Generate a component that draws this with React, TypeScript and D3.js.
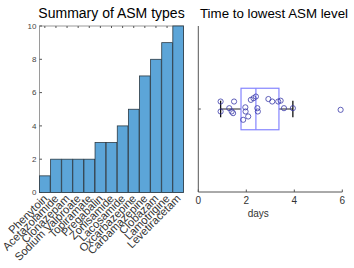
import React, { useEffect, useRef } from "react";
import * as d3 from "d3";

// bar chart data (counts per drug)
const drugs = [
  "Phenytoin", "Acetazolamide", "Clonazepam", "Sodium Valproate", "Topiramate",
  "Pregabalin", "Zonisamide", "Lacosamide", "Oxcarbazepine", "Carbamazepine",
  "Clobazam", "Lamotrigine", "Levetiracetam",
];
const counts = [1, 2, 2, 2, 2, 3, 3, 4, 5, 7, 8, 9, 10];
const countTicks = [0, 2, 4, 6, 8, 10];

// box plot data (days) + the jitter used for the scatter
const days = [
  0.93, 0.93, 1.29, 1.49, 1.39, 1.45, 1.96, 1.97, 2.08, 1.87, 2.19,
  2.3, 2.4, 2.46, 2.48, 2.92, 3.08, 3.33, 3.43, 3.57, 3.94, 5.93,
];
const jitter = [
  1.09, 0.97, 1.01, 1.09, 0.97, 0.95, 1.02, 0.97, 0.91, 0.87, 1.11,
  1.13, 1.15, 1.01, 0.97, 1.12, 1.09, 1.09, 1.1, 1.01, 1.01, 0.99,
];
const boxStats = [0.93, 1.78, 2.4, 3.36, 3.94]; // whisker lo, q1, median, q3, whisker hi
const dayTicks = [0, 2, 4, 6];

const FONT = "'Liberation Sans', Arial, sans-serif";

export default function App() {
  const ref = useRef<SVGSVGElement>(null);

  useEffect(() => {
    const svg = d3.select(ref.current);
    svg.selectAll("*").remove();
    svg.attr("font-family", FONT);

    // ---------- left: bar chart ----------
    const L = { left: 39.5, right: 183.5, top: 26, bottom: 192.5 };
    const x = d3.scaleBand().domain(drugs).range([L.left, L.right]).paddingInner(0.04);
    const y = d3.scaleLinear().domain([0, 10]).range([L.bottom, L.top]);
    const g1 = svg.append("g");

    g1.append("text")
      .attr("x", (L.left + L.right) / 2).attr("y", 18)
      .attr("text-anchor", "middle").attr("font-size", 14).attr("fill", "#000")
      .text("Summary of ASM types");

    // frame
    g1.append("rect")
      .attr("x", L.left).attr("y", L.top)
      .attr("width", L.right - L.left).attr("height", L.bottom - L.top)
      .attr("fill", "none").attr("stroke", "#9a9a9a").attr("stroke-width", 1);

    // y ticks
    countTicks.forEach((t) => {
      g1.append("line")
        .attr("x1", L.left).attr("x2", L.left + 2.5)
        .attr("y1", y(t)).attr("y2", y(t)).attr("stroke", "#555");
      g1.append("text")
        .attr("x", L.left - 3).attr("y", y(t)).attr("dy", "0.35em")
        .attr("text-anchor", "end").attr("font-size", 8).attr("fill", "#444")
        .text(t);
    });
    // top ticks
    drugs.forEach((d) => {
      const cx = (x(d) as number) + x.bandwidth() / 2;
      g1.append("line")
        .attr("x1", cx).attr("x2", cx)
        .attr("y1", L.top).attr("y2", L.top + 2).attr("stroke", "#555");
    });

    g1.selectAll("rect.bar")
      .data(drugs)
      .join("rect")
      .attr("class", "bar")
      .attr("x", (d) => x(d) as number)
      .attr("width", x.bandwidth())
      .attr("y", (d, i) => y(counts[i]))
      .attr("height", (d, i) => y(0) - y(counts[i]))
      .attr("fill", "#5ca5d8")
      .attr("stroke", "#2b3a44")
      .attr("stroke-width", 0.8);

    // rotated category labels
    drugs.forEach((d) => {
      const cx = (x(d) as number) + x.bandwidth() / 2;
      g1.append("text")
        .attr("transform", `translate(${cx + 0.5},${L.bottom + 4}) rotate(-45)`)
        .attr("text-anchor", "end").attr("dy", "0.35em")
        .attr("font-size", 11.2).attr("fill", "#333")
        .text(d);
    });

    // ---------- right: box plot ----------
    const R = { left: 198.3, right: 342.3, top: 26, bottom: 192 };
    const xs = d3.scaleLinear().domain([0, 6]).range([R.left, R.right]);
    const ys = d3.scaleLinear().domain([0, 2]).range([R.bottom, R.top]);
    const g2 = svg.append("g");

    g2.append("text")
      .attr("x", 274).attr("y", 18)
      .attr("text-anchor", "middle").attr("font-size", 13.3).attr("fill", "#000")
      .text("Time to lowest ASM level");

    g2.append("path")
      .attr("d", `M${R.left},${R.top}V${R.bottom}H${R.right}`)
      .attr("fill", "none").attr("stroke", "#555").attr("stroke-width", 1);

    dayTicks.forEach((t) => {
      g2.append("line")
        .attr("x1", xs(t)).attr("x2", xs(t))
        .attr("y1", R.bottom).attr("y2", R.bottom - 2.5).attr("stroke", "#555");
      g2.append("text")
        .attr("x", xs(t)).attr("y", R.bottom + 12)
        .attr("text-anchor", "middle").attr("font-size", 10).attr("fill", "#333")
        .text(t);
    });
    g2.append("line")
      .attr("x1", R.left).attr("x2", R.left + 2.5)
      .attr("y1", ys(1)).attr("y2", ys(1)).attr("stroke", "#555");

    g2.append("text")
      .attr("x", xs(2.5)).attr("y", R.bottom + 25)
      .attr("text-anchor", "middle").attr("font-size", 10).attr("fill", "#333")
      .text("days");

    const [wLo, q1, med, q3, wHi] = boxStats;
    const bh = 0.25;
    // whiskers
    g2.append("line")
      .attr("x1", xs(wLo)).attr("x2", xs(q1)).attr("y1", ys(1)).attr("y2", ys(1))
      .attr("stroke", "#222").attr("stroke-width", 1);
    g2.append("line")
      .attr("x1", xs(q3)).attr("x2", xs(wHi)).attr("y1", ys(1)).attr("y2", ys(1))
      .attr("stroke", "#222").attr("stroke-width", 1);
    [wLo, wHi].forEach((w) => {
      g2.append("line")
        .attr("x1", xs(w)).attr("x2", xs(w))
        .attr("y1", ys(1.1)).attr("y2", ys(0.9))
        .attr("stroke", "#111").attr("stroke-width", 1.3);
    });
    // box + median
    g2.append("rect")
      .attr("x", xs(q1)).attr("y", ys(1 + bh))
      .attr("width", xs(q3) - xs(q1)).attr("height", ys(1 - bh) - ys(1 + bh))
      .attr("fill", "none").attr("stroke", "#8585ff").attr("stroke-width", 1.2);
    g2.append("line")
      .attr("x1", xs(med)).attr("x2", xs(med))
      .attr("y1", ys(1 + bh)).attr("y2", ys(1 - bh))
      .attr("stroke", "#8585ff").attr("stroke-width", 1.2);

    // scatter
    g2.selectAll("circle")
      .data(days)
      .join("circle")
      .attr("cx", (d) => xs(d))
      .attr("cy", (d, i) => ys(jitter[i]))
      .attr("r", 2.6)
      .attr("fill", "none")
      .attr("stroke", "#3a3aa8")
      .attr("stroke-width", 0.8);
  }, []);

  return (
    <svg
      ref={ref}
      width={354}
      height={268}
      style={{ position: "absolute", left: 0, top: 0, background: "#fff" }}
    />
  );
}
